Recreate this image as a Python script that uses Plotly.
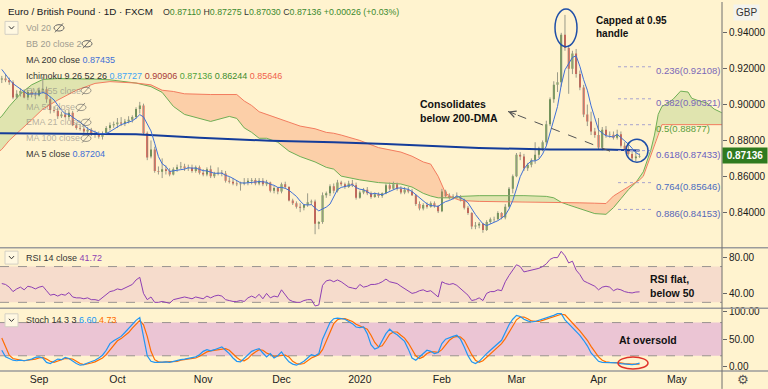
import pandas as pd
import plotly.graph_objects as go
from plotly.subplots import make_subplots

# ---------------- DATA ----------------
HOLIDAYS = {"2019-12-25", "2020-01-01", "2020-04-10"}
dates = [d.strftime("%Y-%m-%d") for d in pd.bdate_range("2019-08-13", "2020-04-17")
         if d.strftime("%Y-%m-%d") not in HOLIDAYS]
ind_dates = dates[4:]

opens = [0.9270, 0.9285, 0.9250, 0.9160,
 0.9140, 0.9145, 0.9135, 0.9125, 0.9040, 0.9060, 0.9075, 0.9040, 0.9070, 0.9055,
 0.9050, 0.9080, 0.9085, 0.9030, 0.8970, 0.8965, 0.8935, 0.8945, 0.8930, 0.8955,
 0.8885, 0.8870, 0.8865, 0.8850, 0.8860, 0.8835, 0.8830, 0.8820, 0.8840, 0.8870,
 0.8885, 0.8890, 0.8900, 0.8895, 0.8905, 0.8915, 0.8930, 0.8975, 0.8995, 0.8840,
 0.8710, 0.8750, 0.8630, 0.8625, 0.8640, 0.8630, 0.8610, 0.8640, 0.8650, 0.8655,
 0.8645, 0.8648, 0.8630, 0.8650, 0.8620, 0.8610, 0.8640, 0.8600, 0.8615, 0.8620,
 0.8615, 0.8575, 0.8570, 0.8560, 0.8555, 0.8560, 0.8565, 0.8575, 0.8580, 0.8560,
 0.8575, 0.8555, 0.8565, 0.8520, 0.8535, 0.8515, 0.8555, 0.8540, 0.8465, 0.8450,
 0.8430, 0.8425, 0.8440, 0.8455, 0.8460, 0.8335, 0.8345, 0.8495, 0.8505, 0.8545,
 0.8520, 0.8565, 0.8555, 0.8540, 0.8560, 0.8550, 0.8480, 0.8510, 0.8525, 0.8505,
 0.8485, 0.8500, 0.8490, 0.8505, 0.8550, 0.8530, 0.8555, 0.8530, 0.8510, 0.8525,
 0.8515, 0.8495, 0.8445, 0.8420, 0.8440, 0.8430, 0.8450, 0.8435, 0.8405, 0.8515,
 0.8490, 0.8480, 0.8488, 0.8482, 0.8470, 0.8425, 0.8395, 0.8320, 0.8325, 0.8335,
 0.8300, 0.8345, 0.8360, 0.8362, 0.8395, 0.8370, 0.8430, 0.8530, 0.8600, 0.8720,
 0.8710, 0.8645, 0.8665, 0.8690, 0.8720, 0.8755, 0.8790, 0.8890, 0.9030, 0.9110,
 0.9125, 0.9390, 0.9315, 0.9200, 0.9285, 0.9170, 0.9095, 0.8945, 0.8905, 0.8850,
 0.8830, 0.8760, 0.8860, 0.8830, 0.8832, 0.8815, 0.8835, 0.8770, 0.8752, 0.8725,
 0.8700, 0.87110]
highs = [0.9300, 0.9300, 0.9260, 0.9170,
 0.9160, 0.9170, 0.9150, 0.9135, 0.9080, 0.9090, 0.9085, 0.9080, 0.9085, 0.9070,
 0.9095, 0.9155, 0.9100, 0.9045, 0.8990, 0.8985, 0.8960, 0.8970, 0.8970, 0.8965,
 0.8895, 0.8890, 0.8880, 0.8875, 0.8870, 0.8855, 0.8850, 0.8850, 0.8880, 0.8900,
 0.8905, 0.8925, 0.8930, 0.8920, 0.8935, 0.8940, 0.8985, 0.9015, 0.9005, 0.8850,
 0.8800, 0.8765, 0.8655, 0.8700, 0.8660, 0.8645, 0.8650, 0.8665, 0.8680, 0.8670,
 0.8665, 0.8665, 0.8660, 0.8660, 0.8640, 0.8650, 0.8660, 0.8625, 0.8650, 0.8635,
 0.8630, 0.8595, 0.8590, 0.8575, 0.8570, 0.8590, 0.8590, 0.8590, 0.8590, 0.8590,
 0.8590, 0.8580, 0.8570, 0.8545, 0.8540, 0.8565, 0.8570, 0.8545, 0.8475, 0.8460,
 0.8450, 0.8445, 0.8505, 0.8470, 0.8470, 0.8350, 0.8510, 0.8515, 0.8555, 0.8560,
 0.8580, 0.8575, 0.8565, 0.8575, 0.8580, 0.8565, 0.8520, 0.8535, 0.8540, 0.8515,
 0.8510, 0.8510, 0.8510, 0.8560, 0.8565, 0.8570, 0.8565, 0.8545, 0.8540, 0.8540,
 0.8530, 0.8500, 0.8460, 0.8450, 0.8455, 0.8460, 0.8460, 0.8440, 0.8530, 0.8525,
 0.8505, 0.8500, 0.8510, 0.8495, 0.8475, 0.8435, 0.8400, 0.8345, 0.8345, 0.8340,
 0.8355, 0.8370, 0.8375, 0.8405, 0.8400, 0.8445, 0.8540, 0.8610, 0.8730, 0.8735,
 0.8725, 0.8675, 0.8700, 0.8790, 0.8765, 0.8800, 0.8910, 0.9040, 0.9130, 0.9180,
 0.9400, 0.9500, 0.9330, 0.9300, 0.9310, 0.9190, 0.9110, 0.9000, 0.8960, 0.8870,
 0.8925, 0.8875, 0.8880, 0.8850, 0.8850, 0.8860, 0.8850, 0.8790, 0.8790, 0.8735,
 0.8740, 0.87275]
lows = [0.9250, 0.9230, 0.9150, 0.9120,
 0.9120, 0.9125, 0.9110, 0.9030, 0.9030, 0.9045, 0.9035, 0.9025, 0.9040, 0.9030,
 0.9045, 0.9060, 0.9010, 0.8950, 0.8955, 0.8920, 0.8925, 0.8925, 0.8915, 0.8880,
 0.8860, 0.8855, 0.8840, 0.8835, 0.8825, 0.8815, 0.8810, 0.8805, 0.8830, 0.8855,
 0.8870, 0.8870, 0.8880, 0.8880, 0.8895, 0.8900, 0.8920, 0.8950, 0.8830, 0.8690,
 0.8700, 0.8620, 0.8610, 0.8590, 0.8610, 0.8600, 0.8605, 0.8625, 0.8640, 0.8630,
 0.8630, 0.8620, 0.8620, 0.8610, 0.8600, 0.8600, 0.8590, 0.8590, 0.8605, 0.8600,
 0.8565, 0.8560, 0.8550, 0.8545, 0.8520, 0.8550, 0.8550, 0.8555, 0.8550, 0.8550,
 0.8545, 0.8545, 0.8510, 0.8505, 0.8500, 0.8505, 0.8530, 0.8460, 0.8440, 0.8420,
 0.8400, 0.8410, 0.8430, 0.8440, 0.8277, 0.8305, 0.8335, 0.8480, 0.8490, 0.8505,
 0.8510, 0.8545, 0.8530, 0.8535, 0.8540, 0.8470, 0.8475, 0.8500, 0.8495, 0.8475,
 0.8480, 0.8480, 0.8480, 0.8500, 0.8520, 0.8525, 0.8520, 0.8500, 0.8500, 0.8505,
 0.8490, 0.8435, 0.8410, 0.8410, 0.8420, 0.8425, 0.8425, 0.8395, 0.8400, 0.8480,
 0.8470, 0.8470, 0.8475, 0.8460, 0.8415, 0.8385, 0.8305, 0.8305, 0.8310, 0.8285,
 0.8295, 0.8335, 0.8345, 0.8355, 0.8360, 0.8360, 0.8425, 0.8505, 0.8595, 0.8690,
 0.8630, 0.8630, 0.8650, 0.8670, 0.8700, 0.8740, 0.8775, 0.8880, 0.9010, 0.9070,
 0.9100, 0.9300, 0.9060, 0.9170, 0.9150, 0.9080, 0.8930, 0.8880, 0.8830, 0.8815,
 0.8750, 0.8745, 0.8815, 0.8815, 0.8805, 0.8805, 0.8760, 0.8740, 0.8715, 0.8690,
 0.8685, 0.87030]
closes = [0.9285, 0.9250, 0.9160, 0.9140,
 0.9145, 0.9135, 0.9125, 0.9040, 0.9060, 0.9075, 0.9040, 0.9070, 0.9055, 0.9050,
 0.9080, 0.9085, 0.9030, 0.8970, 0.8965, 0.8935, 0.8945, 0.8930, 0.8955, 0.8885,
 0.8870, 0.8865, 0.8850, 0.8860, 0.8835, 0.8830, 0.8820, 0.8840, 0.8870, 0.8885,
 0.8890, 0.8900, 0.8895, 0.8905, 0.8915, 0.8930, 0.8975, 0.8995, 0.8840, 0.8705,
 0.8750, 0.8630, 0.8625, 0.8640, 0.8630, 0.8610, 0.8640, 0.8650, 0.8655, 0.8645,
 0.8648, 0.8630, 0.8650, 0.8620, 0.8610, 0.8640, 0.8600, 0.8615, 0.8620, 0.8615,
 0.8575, 0.8570, 0.8560, 0.8555, 0.8560, 0.8565, 0.8575, 0.8580, 0.8560, 0.8575,
 0.8555, 0.8565, 0.8520, 0.8535, 0.8515, 0.8555, 0.8540, 0.8465, 0.8450, 0.8430,
 0.8425, 0.8440, 0.8455, 0.8460, 0.8335, 0.8345, 0.8495, 0.8505, 0.8545, 0.8520,
 0.8565, 0.8555, 0.8540, 0.8560, 0.8550, 0.8480, 0.8510, 0.8525, 0.8505, 0.8485,
 0.8500, 0.8490, 0.8505, 0.8550, 0.8530, 0.8555, 0.8530, 0.8510, 0.8525, 0.8515,
 0.8495, 0.8445, 0.8420, 0.8440, 0.8430, 0.8450, 0.8435, 0.8405, 0.8515, 0.8490,
 0.8480, 0.8488, 0.8482, 0.8470, 0.8425, 0.8395, 0.8320, 0.8325, 0.8335, 0.8300,
 0.8345, 0.8360, 0.8362, 0.8395, 0.8370, 0.8430, 0.8530, 0.8600, 0.8720, 0.8710,
 0.8645, 0.8665, 0.8690, 0.8720, 0.8755, 0.8790, 0.8890, 0.9030, 0.9110, 0.9125,
 0.9390, 0.9315, 0.9200, 0.9285, 0.9170, 0.9095, 0.8945, 0.8905, 0.8850, 0.8830,
 0.8760, 0.8860, 0.8830, 0.8832, 0.8815, 0.8835, 0.8770, 0.8752, 0.8725, 0.8700,
 0.8711, 0.87136]

rsi = [51, 50, 47, 42, 45, 47, 44, 48, 47, 45,
 47, 48, 43, 38, 39, 37, 39, 38, 41, 36,
 35, 35, 34, 35, 33, 33, 32, 35, 39, 42,
 43, 45, 44, 46, 48, 50, 55, 58, 40, 33,
 36, 30, 30, 31, 30, 29, 33, 34, 35, 36,
 35, 34, 36, 35, 34, 37, 35, 37, 38, 37,
 33, 32, 31, 31, 32, 31, 35, 37, 35, 39,
 34, 40, 35, 37, 36, 44, 38, 33, 31, 30,
 30, 32, 33, 33, 26, 27, 49, 54, 55, 53,
 55, 53, 50, 47, 46, 45, 50, 47, 48, 50,
 50, 51, 53, 56, 53, 52, 51, 48, 45, 43,
 40, 41, 43, 44, 42, 43, 40, 36, 53, 51,
 50, 51, 49, 45, 42, 38, 32, 33, 35, 32,
 40, 42, 42, 44, 43, 53, 60, 66, 72, 70,
 64, 65, 66, 67, 68, 70, 73, 78, 80, 80,
 87, 82, 74, 76, 66, 61, 54, 52, 50, 48,
 44, 47, 48, 47, 43, 45, 44, 42, 41, 40.5,
 41.5, 41.72]
stoch_k = [30, 18, 15, 12, 11, 12, 11, 12, 14, 17,
 18, 16, 8, 6, 10, 14, 13, 17, 15, 10,
 6, 3, 4, 7, 9, 12, 16, 21, 30, 42,
 47, 51, 55, 62, 70, 78, 84, 89, 55, 20,
 10, 8, 8, 9, 9, 8, 10, 12, 13, 14,
 15, 16, 18, 22, 28, 31, 29, 31, 33, 36,
 30, 24, 16, 10, 9, 15, 22, 28, 31, 33,
 25, 18, 24, 16, 20, 27, 17, 9, 5, 3,
 6, 10, 16, 22, 20, 24, 50, 66, 80, 87,
 88, 87, 86, 82, 78, 72, 71, 72, 60, 40,
 32, 35, 48, 60, 68, 62, 58, 52, 46, 32,
 16, 12, 18, 24, 30, 28, 24, 26, 42, 50,
 53, 55, 57, 50, 36, 20, 9, 6, 10, 18,
 24, 30, 36, 42, 48, 62, 76, 86, 93, 91,
 86, 83, 81, 82, 84, 86, 88, 90, 93, 96,
 96, 85, 78, 72, 65, 57, 48, 38, 25, 18,
 10, 8, 8, 8, 7, 7, 6, 5, 5, 4,
 5, 6.60]
stoch_d = [52, 36, 21, 15, 13, 12, 11, 12, 12, 14,
 16, 17, 14, 10, 8, 10, 12, 15, 15, 14,
 10, 6, 4, 5, 7, 9, 12, 16, 22, 31,
 40, 47, 51, 56, 62, 70, 77, 84, 76, 55,
 28, 13, 9, 8, 9, 9, 9, 10, 12, 13,
 14, 15, 16, 19, 23, 27, 29, 30, 31, 33,
 33, 30, 23, 17, 12, 11, 15, 22, 27, 31,
 30, 25, 22, 19, 20, 21, 21, 18, 10, 6,
 5, 6, 11, 16, 19, 22, 31, 47, 65, 78,
 85, 87, 87, 85, 82, 77, 74, 72, 68, 57,
 44, 36, 38, 48, 59, 63, 63, 57, 52, 43,
 31, 20, 15, 18, 24, 27, 27, 26, 31, 39,
 48, 53, 55, 54, 48, 35, 22, 12, 8, 11,
 17, 24, 30, 36, 42, 51, 62, 75, 85, 90,
 90, 87, 83, 82, 82, 84, 86, 88, 90, 93,
 95, 94, 86, 78, 72, 65, 57, 48, 37, 27,
 18, 12, 9, 8, 8, 7, 7, 6, 5, 5,
 5, 4.73]

ma200_dates = ["2019-08-16", "2019-09-16", "2019-10-08", "2019-10-31", "2019-11-27", "2019-12-20",
               "2020-01-13", "2020-02-17", "2020-03-13", "2020-04-03", "2020-04-17"]
ma200_vals = [0.8840, 0.8838, 0.8834, 0.8815, 0.8798, 0.8790, 0.8780, 0.8758, 0.8749, 0.8749, 0.87435]

cloud_dates = ["2019-08-15", "2019-08-19", "2019-08-21", "2019-08-26", "2019-08-29", "2019-09-03",
               "2019-09-09", "2019-09-16", "2019-09-23", "2019-09-27", "2019-10-03", "2019-10-08",
               "2019-10-14", "2019-10-17", "2019-10-22", "2019-10-25", "2019-11-05", "2019-11-12",
               "2019-11-14", "2019-11-18", "2019-11-20", "2019-11-22", "2019-11-26", "2019-11-29",
               "2019-12-04", "2019-12-09", "2019-12-13", "2019-12-18", "2019-12-20", "2019-12-24",
               "2020-01-02", "2020-01-09", "2020-01-17", "2020-01-22", "2020-01-27", "2020-01-29",
               "2020-01-31", "2020-02-04", "2020-02-06",
               "2020-02-10", "2020-02-17", "2020-03-04", "2020-03-12", "2020-03-16", "2020-03-18",
               "2020-03-20", "2020-03-25", "2020-03-31", "2020-04-03", "2020-04-07", "2020-04-09",
               "2020-04-14", "2020-04-16",
               "2020-04-17", "2020-04-20", "2020-04-21", "2020-04-22", "2020-04-23", "2020-04-24",
               "2020-04-27", "2020-04-28", "2020-04-30", "2020-05-04", "2020-05-06", "2020-05-07",
               "2020-05-11", "2020-05-13", "2020-05-15", "2020-05-19", "2020-05-21"]
lead_a = [0.8900, 0.8935, 0.8990, 0.9060, 0.9110, 0.9140,
          0.9145, 0.9145, 0.9142, 0.9138, 0.9128, 0.9120,
          0.9100, 0.9068, 0.8990, 0.8945, 0.8906, 0.8934,
          0.8923, 0.8870, 0.8845, 0.8812, 0.8812, 0.8790,
          0.8740, 0.8710, 0.8680, 0.8650, 0.8640, 0.8601,
          0.8580, 0.8565, 0.8557, 0.8540, 0.8505, 0.8490,
          0.8480, 0.8479, 0.8480,
          0.8488, 0.8492, 0.8492, 0.8488, 0.8480, 0.8455,
          0.8440, 0.8420, 0.8392, 0.8388, 0.8425, 0.8475,
          0.8525, 0.8565,
          0.8595, 0.8625, 0.8685, 0.8745, 0.8830, 0.8945,
          0.8990, 0.9000, 0.9030, 0.9075, 0.9070, 0.9035,
          0.9020, 0.9010, 0.8975, 0.8955, 0.8950]
lead_b = [0.8720, 0.8750, 0.8800, 0.8855, 0.8915, 0.8975,
          0.9025, 0.9080, 0.9118, 0.9128, 0.9124, 0.9120,
          0.9110, 0.9080, 0.9073, 0.9060, 0.9056, 0.9056,
          0.9056, 0.9020, 0.8995, 0.8960, 0.8945, 0.8925,
          0.8900, 0.8880, 0.8865, 0.8845, 0.8840, 0.8830,
          0.8800, 0.8760, 0.8735, 0.8712, 0.8680, 0.8668,
          0.8600, 0.8505, 0.8480,
          0.8465, 0.8460, 0.8458, 0.8455, 0.8455, 0.8455,
          0.8455, 0.8452, 0.8450, 0.8448, 0.8490, 0.8515,
          0.8540, 0.8565,
          0.8580, 0.8600, 0.8660, 0.8720, 0.8775, 0.8840,
          0.8888, 0.8888, 0.8888, 0.8888, 0.8888, 0.8888,
          0.8888, 0.8888, 0.8888, 0.8888, 0.8888]

fib_levels = [0.236, 0.382, 0.5, 0.618, 0.764, 0.886]
fib_prices = [0.92108, 0.90321, 0.88877, 0.87433, 0.85646, 0.84153]
fib_colors = ["#7a68b8", "#7a68b8", "#5c9e3c", "#6a5fbf", "#4a6cbf", "#5766b8"]

month_ticks = ["2019-09-02", "2019-10-01", "2019-11-01", "2019-12-02", "2020-01-02",
               "2020-02-03", "2020-03-02", "2020-04-01", "2020-05-01"]
month_labels = ["Sep", "Oct", "Nov", "Dec", "2020", "Feb", "Mar", "Apr", "May"]

assert len(opens) == len(highs) == len(lows) == len(closes) == len(dates)
assert len(rsi) == len(stoch_k) == len(stoch_d) == len(ind_dates)
assert len(cloud_dates) == len(lead_a) == len(lead_b)

ma5 = pd.Series(closes).rolling(5).mean().tolist()

# ---------------- STYLE ----------------
BG = "#fff3cf"
GREEN = "#3a7d22"
RED = "#e2231d"
WICK = "#9a9a88"
FONT = "Liberation Sans, Arial, sans-serif"
W, H = 722.0, 371.0


def px(x):
    return x / W


def py(y):
    return (H - y) / H


fig = make_subplots(rows=3, cols=1, shared_xaxes=True, vertical_spacing=0)

# Ichimoku cloud fills (split where the two leads cross)
segments, cur = [], [0]
for i in range(1, len(cloud_dates)):
    cur.append(i)
    if lead_a[i] == lead_b[i] and i != len(cloud_dates) - 1:
        segments.append(cur)
        cur = [i]
segments.append(cur)
for seg in segments:
    up = sum(lead_a[i] - lead_b[i] for i in seg) > 0
    xs = [cloud_dates[i] for i in seg] + [cloud_dates[i] for i in reversed(seg)]
    ys = [lead_a[i] for i in seg] + [lead_b[i] for i in reversed(seg)]
    fig.add_trace(go.Scatter(x=xs, y=ys, fill="toself", mode="lines", line=dict(width=0),
                             fillcolor="rgba(140,190,90,0.27)" if up else "rgba(245,125,80,0.30)",
                             hoverinfo="skip"), row=1, col=1)
fig.add_trace(go.Scatter(x=cloud_dates, y=lead_a, mode="lines", line=dict(color="#6fae55", width=1)), row=1, col=1)
fig.add_trace(go.Scatter(x=cloud_dates, y=lead_b, mode="lines", line=dict(color="#f27c5f", width=1)), row=1, col=1)

# wicks
wx, wy = [], []
for d, h, l in zip(dates, highs, lows):
    wx += [d, d, None]
    wy += [l, h, None]
fig.add_trace(go.Scatter(x=wx, y=wy, mode="lines", line=dict(color=WICK, width=1), hoverinfo="skip"), row=1, col=1)

fig.add_trace(go.Candlestick(x=dates, open=opens, high=highs, low=lows, close=closes,
                             increasing=dict(fillcolor=GREEN, line=dict(color=GREEN, width=0)),
                             decreasing=dict(fillcolor=RED, line=dict(color=RED, width=0)),
                             whiskerwidth=0), row=1, col=1)

fig.add_trace(go.Scatter(x=ma200_dates, y=ma200_vals, mode="lines", line=dict(color="#143c9a", width=2)), row=1, col=1)
fig.add_trace(go.Scatter(x=dates, y=ma5, mode="lines", line=dict(color="#3f6fd6", width=1)), row=1, col=1)

# RSI and Stoch
fig.add_trace(go.Scatter(x=ind_dates, y=rsi, mode="lines", line=dict(color="#8e3fb3", width=1)), row=2, col=1)
fig.add_trace(go.Scatter(x=ind_dates, y=stoch_d, mode="lines", line=dict(color="#ff6d00", width=1.2)), row=3, col=1)
fig.add_trace(go.Scatter(x=ind_dates, y=stoch_k, mode="lines", line=dict(color="#2196f3", width=1.2)), row=3, col=1)

shapes = []
# indicator bands
shapes.append(dict(type="rect", xref="paper", x0=0, x1=1, yref="y2", y0=30, y1=70,
                   fillcolor="#f6dccc", line=dict(width=0), layer="below"))
shapes.append(dict(type="rect", xref="paper", x0=0, x1=1, yref="y3", y0=20, y1=80,
                   fillcolor="#ebc5d4", line=dict(width=0), layer="below"))
for yr, v in (("y2", 30), ("y2", 70), ("y3", 20), ("y3", 80)):
    shapes.append(dict(type="line", xref="paper", x0=0, x1=1, yref=yr, y0=v, y1=v,
                       line=dict(color="#9a9490", width=1, dash="dash"), layer="below"))
# separators and axis lines
for yy in (247, 308, 371):
    shapes.append(dict(type="line", xref="paper", x0=0, x1=768 / W, yref="paper", y0=py(yy), y1=py(yy),
                       line=dict(color="#9b9b9b", width=1.5)))
shapes.append(dict(type="line", xref="paper", x0=1, x1=1, yref="paper", y0=py(389), y1=1,
                   line=dict(color="#6f6f6f", width=1)))
# fib lines
for lv, pr, col in zip(fib_levels, fib_prices, fib_colors):
    shapes.append(dict(type="line", xref="paper", x0=px(618), x1=px(652), yref="y", y0=pr, y1=pr,
                       line=dict(color="#a7a3cf", width=1, dash="dot")))
# highlights
shapes.append(dict(type="circle", xref="paper", yref="paper", x0=px(555), x1=px(577), y0=py(45), y1=py(7),
                   line=dict(color="#1f4fa8", width=1.5)))
shapes.append(dict(type="circle", xref="paper", yref="paper", x0=px(626), x1=px(648), y0=py(161), y1=py(138),
                   line=dict(color="#1f4fa8", width=1.5)))
shapes.append(dict(type="circle", xref="paper", yref="paper", x0=px(618), x1=px(648), y0=py(369), y1=py(357),
                   line=dict(color="#e0322a", width=1.5)))
shapes.append(dict(type="line", xref="paper", yref="paper", x0=px(610), y0=py(150), x1=px(508), y1=py(110),
                   line=dict(color="#555555", width=1, dash="dash")))


# eye-hidden icons
def eye(cx, cy, color):
    shapes.append(dict(type="circle", xref="paper", yref="paper", x0=px(cx - 5), x1=px(cx + 5),
                       y0=py(cy + 3.2), y1=py(cy - 3.2), line=dict(color=color, width=1)))
    shapes.append(dict(type="line", xref="paper", yref="paper", x0=px(cx - 4), x1=px(cx + 4),
                       y0=py(cy + 4.5), y1=py(cy - 4.5), line=dict(color=color, width=1)))


eye(59, 26, "#666666")
eye(87, 42, "#666666")
for cx, cy in ((86, 89), (81, 106), (86, 121), (86, 137)):
    eye(cx, cy, "rgba(90,90,90,0.6)")


# dropdown boxes
def dropbox(cy):
    shapes.append(dict(type="rect", xref="paper", yref="paper", x0=px(5), x1=px(18), y0=py(cy + 6.5),
                       y1=py(cy - 6.5), line=dict(color="#d4d0c4", width=1), fillcolor="#fff8e2"))
    shapes.append(dict(type="path", xref="paper", yref="paper",
                       path="M %f %f L %f %f L %f %f" % (px(9), py(cy - 1.5), px(11.5), py(cy + 1.2), px(14), py(cy - 1.5)),
                       line=dict(color="#333333", width=1)))


dropbox(26)
dropbox(257)
dropbox(320)

ann = []


def text(x, y, t, size=9, color="#333333", anchor="left", bold=False, family=FONT, **kw):
    ann.append(dict(xref="paper", yref="paper", x=px(x), y=py(y), text=("<b>%s</b>" % t) if bold else t,
                    showarrow=False, xanchor=anchor, yanchor="middle",
                    font=dict(size=size, color=color, family=family), **kw))


text(6, 10, "Euro / British Pound · 1D · FXCM", size=9.8, color="#131722")
g = "<span style='color:#3c8a2e'>%s</span>"
text(161, 10, "O" + g % "0.87110" + " H" + g % "0.87275" + " L" + g % "0.87030" + " C" + g % "0.87136"
     + " " + g % "+0.00026 (+0.03%)", size=8.8, color="#333333")
gray_faded = "rgba(120,120,120,0.55)"
text(24, 26, "Vol 20", color="#a09c90")
text(24, 42, "BB 20 close 2", color="#a09c90")
text(24, 58, "MA 200 close <span style='color:#3f6fd6'>0.87435</span>")
text(24, 74, "Ichimoku 9 26 52 26 <span style='color:#42a5f5'>0.87727</span> "
             "<span style='color:#a83a36'>0.90906</span> <span style='color:#4fa23a'>0.87136</span> "
             "<span style='color:#3c8c2c'>0.86244</span> <span style='color:#f0614a'>0.85646</span>")
text(24, 89, "EMA 55 close", color=gray_faded)
text(24, 106, "MA 50 close", color=gray_faded)
text(24, 121, "EMA 21 close", color=gray_faded)
text(24, 137, "MA 100 close", color=gray_faded)
text(24, 153, "MA 5 close <span style='color:#3f6fd6'>0.87204</span>")
text(24, 257, "RSI 14 close <span style='color:#8e3fb3'>41.72</span>")
text(24, 320, "Stoch 14 3 3 <span style='color:#2196f3'>6.60</span> <span style='color:#ff6d00'>4.73</span>")

text(594, 25, "Capped at 0.95<br>handle", size=10, color="#111111", bold=True, align="left")
text(418, 110, "Consolidates<br>below 200-DMA", size=10.5, color="#111111", bold=True, align="left")
text(648, 286, "RSI flat,<br>below 50", size=10.5, color="#111111", bold=True, align="left")
text(617, 340, "At oversold", size=10.5, color="#111111", bold=True)

for lv, pr, col in zip(fib_levels, fib_prices, fib_colors):
    ann.append(dict(xref="paper", yref="y", x=px(654), y=pr, yshift=-4, text="%s(%.5f)" % (lv, pr),
                    showarrow=False, xanchor="left", yanchor="middle",
                    font=dict(size=9.5, color=col, family=FONT)))

ann.append(dict(xref="paper", yref="paper", x=px(508), y=py(110), ax=9.3, ay=3.6, text="",
                showarrow=True, arrowhead=5, arrowsize=1.3, arrowwidth=1, arrowcolor="#555555", standoff=0))

# price tag, currency, gear
ann.append(dict(xref="paper", yref="y", x=1, y=0.87136, xanchor="left", yanchor="middle",
                text="<b>0.87136</b>", showarrow=False, bgcolor="#2f7a1f", width=40, height=11,
                borderpad=2, font=dict(size=10, color="white", family=FONT)))
text(733, 10.5, "GBP", size=10, color="#333333", bgcolor="#f3f3ee", borderpad=2)
text(743, 380, "⚙", size=13, color="#555555", anchor="center", family="DejaVu Sans")

fig.update_layout(shapes=shapes, annotations=ann)

x_range = ["2019-08-16 12:30", "2020-05-19 02:30"]
fig.update_xaxes(range=x_range, rangebreaks=[dict(bounds=["sat", "mon"]), dict(values=sorted(HOLIDAYS))],
                 showgrid=False, zeroline=False, showline=False, rangeslider=dict(visible=False),
                 ticks="")
fig.update_xaxes(tickvals=month_ticks, ticktext=month_labels, tickfont=dict(size=10.5, color="#222222"),
                 row=3, col=1)
fig.update_yaxes(side="right", showgrid=False, zeroline=False, showline=False, ticks="outside",
                 ticklen=4, tickcolor="#666666", tickfont=dict(size=10, color="#1a1a1a", family=FONT))

fig.update_layout(
    width=768, height=389, margin=dict(l=0, r=46, t=0, b=18),
    paper_bgcolor=BG, plot_bgcolor=BG, showlegend=False,
    font=dict(family=FONT),
    xaxis_rangeslider_visible=False,
    yaxis=dict(domain=[py(247), 1], range=[0.8202, 0.9572],
               tickvals=[0.84, 0.86, 0.88, 0.90, 0.92, 0.94], tickformat=".5f"),
    yaxis2=dict(domain=[py(308), py(247)], range=[23.3, 91.1], tickvals=[40, 80],
                ticktext=["40.00", "80.00"]),
    yaxis3=dict(domain=[0, py(308)], range=[-7.5, 105.7], tickvals=[0, 50, 100],
                ticktext=["0.00", "50.00", "100.00"]),
)

fig.write_html("out.html", config={"displayModeBar": False},
               post_script="document.body.style.margin='0';document.body.style.padding='0';"
                           "document.documentElement.style.background='%s';" % BG)
